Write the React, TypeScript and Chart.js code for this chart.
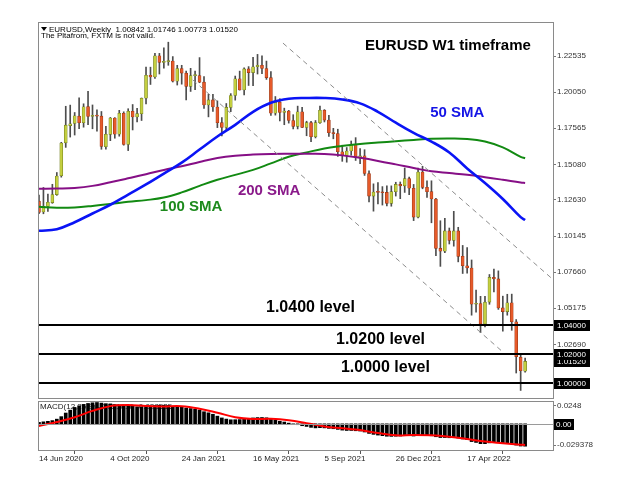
import React, { useEffect, useRef } from 'react';
import { Chart, registerables } from 'chart.js';

Chart.register(...registerables);

// ---------- DATA (weekly EURUSD, week 0 = 14 Jun 2020) ----------
const candleOpen = [
  1.1255, 1.1180, 1.1218, 1.1245, 1.1300, 1.1430, 1.1656, 1.1775, 1.1790, 1.1840,
  1.1795, 1.1905, 1.1838, 1.1845, 1.1840, 1.1630, 1.1715, 1.1827, 1.1716, 1.1860,
  1.1645, 1.1874, 1.1834, 1.1857, 1.1963, 1.2121, 1.2110, 1.2255, 1.2210, 1.2215,
  1.2219, 1.2080, 1.2168, 1.2136, 1.2045, 1.2119, 1.2119, 1.2074, 1.1917, 1.1952,
  1.1903, 1.1795, 1.1762, 1.1900, 1.1982, 1.2097, 1.2020, 1.2165, 1.2140, 1.2180,
  1.2190, 1.2168, 1.2105, 1.1860, 1.1935, 1.1865, 1.1875, 1.1810, 1.1770, 1.1870,
  1.1762, 1.1795, 1.1698, 1.1795, 1.1880, 1.1813, 1.1726, 1.1720, 1.1595, 1.1570,
  1.1600, 1.1645, 1.1560, 1.1567, 1.1445, 1.1290, 1.1318, 1.1315, 1.1315, 1.1240,
  1.1320, 1.1370, 1.1360, 1.1410, 1.1344, 1.1145, 1.1455, 1.1350, 1.1320, 1.1270,
  1.0930, 1.0910, 1.1050, 1.0985, 1.1050, 1.0875, 1.0810, 1.0795, 1.0545, 1.0550,
  1.0410, 1.0560, 1.0730, 1.0720, 1.0520, 1.0495, 1.0555, 1.0425, 1.0180, 1.00842,
];
const candleHigh = [
  1.1297, 1.1349, 1.1303, 1.1371, 1.1452, 1.1660, 1.1908, 1.1916, 1.1865, 1.1966,
  1.1925, 1.2011, 1.1917, 1.1883, 1.1872, 1.1770, 1.1831, 1.1830, 1.1880, 1.1870,
  1.1891, 1.1920, 1.1894, 1.1965, 1.2177, 1.2177, 1.2273, 1.2272, 1.2310, 1.2349,
  1.2250, 1.2190, 1.2190, 1.2150, 1.2169, 1.2150, 1.2243, 1.2113, 1.1990, 1.1990,
  1.1945, 1.1830, 1.1927, 1.1995, 1.2116, 1.2150, 1.2172, 1.2181, 1.2245, 1.2265,
  1.2255, 1.2219, 1.2146, 1.1975, 1.1960, 1.1895, 1.1880, 1.1850, 1.1909, 1.1900,
  1.1805, 1.1805, 1.1810, 1.1910, 1.1885, 1.1846, 1.1756, 1.1750, 1.1640, 1.1624,
  1.1669, 1.1692, 1.1616, 1.1609, 1.1464, 1.1374, 1.1383, 1.1355, 1.1360, 1.1360,
  1.1385, 1.1387, 1.1483, 1.1420, 1.1370, 1.1483, 1.1495, 1.1395, 1.1395, 1.1275,
  1.1120, 1.1137, 1.1070, 1.1185, 1.1075, 1.0950, 1.0936, 1.0850, 1.0642, 1.0600,
  1.0600, 1.0750, 1.0787, 1.0775, 1.0601, 1.0614, 1.0615, 1.0440, 1.0200, 1.01746,
];
const candleLow = [
  1.1168, 1.1168, 1.1185, 1.1240, 1.1295, 1.1420, 1.1625, 1.1696, 1.1710, 1.1753,
  1.1764, 1.1782, 1.1753, 1.1737, 1.1612, 1.1613, 1.1671, 1.1688, 1.1702, 1.1640,
  1.1603, 1.1745, 1.1800, 1.1810, 1.1925, 1.2058, 1.2100, 1.2130, 1.2170, 1.2190,
  1.2075, 1.2054, 1.2060, 1.1952, 1.2010, 1.2023, 1.2070, 1.1893, 1.1835, 1.1873,
  1.1761, 1.1704, 1.1740, 1.1871, 1.1950, 1.2019, 1.1986, 1.2051, 1.2050, 1.2130,
  1.2133, 1.2093, 1.1845, 1.1847, 1.1807, 1.1781, 1.1792, 1.1752, 1.1752, 1.1760,
  1.1705, 1.1664, 1.1690, 1.1790, 1.1800, 1.1700, 1.1684, 1.1563, 1.1529, 1.1523,
  1.1571, 1.1535, 1.1513, 1.1432, 1.1250, 1.1186, 1.1236, 1.1228, 1.1222, 1.1220,
  1.1290, 1.1272, 1.1315, 1.1300, 1.1121, 1.1140, 1.1340, 1.1280, 1.1106, 1.0880,
  1.0806, 1.0900, 1.0960, 1.0945, 1.0837, 1.0757, 1.0760, 1.0470, 1.0490, 1.0350,
  1.0390, 1.0545, 1.0630, 1.0510, 1.0360, 1.0470, 1.0366, 1.0072, 0.9952, 1.00773,
];
const candleClose = [
  1.1178, 1.1220, 1.1247, 1.1300, 1.1428, 1.1655, 1.1778, 1.1787, 1.1842, 1.1795,
  1.1904, 1.1838, 1.1845, 1.1840, 1.1632, 1.1715, 1.1827, 1.1716, 1.1860, 1.1645,
  1.1874, 1.1834, 1.1857, 1.1963, 1.2121, 1.2110, 1.2255, 1.2210, 1.2215, 1.2219,
  1.2080, 1.2168, 1.2136, 1.2045, 1.2119, 1.2122, 1.2074, 1.1917, 1.1952, 1.1903,
  1.1795, 1.1762, 1.1900, 1.1982, 1.2097, 1.2020, 1.2165, 1.2140, 1.2180, 1.2190,
  1.2168, 1.2105, 1.1860, 1.1935, 1.1865, 1.1875, 1.1810, 1.1770, 1.1870, 1.1762,
  1.1795, 1.1698, 1.1795, 1.1880, 1.1813, 1.1726, 1.1720, 1.1595, 1.1570, 1.1600,
  1.1645, 1.1560, 1.1567, 1.1445, 1.1290, 1.1318, 1.1315, 1.1313, 1.1240, 1.1320,
  1.1370, 1.1360, 1.1410, 1.1344, 1.1145, 1.1455, 1.1350, 1.1320, 1.1270, 1.0930,
  1.0910, 1.1050, 1.0985, 1.1050, 1.0875, 1.0810, 1.0795, 1.0545, 1.0550, 1.0410,
  1.0560, 1.0730, 1.0720, 1.0520, 1.0495, 1.0555, 1.0425, 1.0185, 1.0088, 1.01520,
];

const maWeeks = [0, 4, 8, 12, 16, 20, 24, 28, 32, 36, 40, 44, 48, 52, 56, 60, 64, 68, 72, 76, 80, 84, 88, 92, 96, 100, 104, 108, 109];
const sma50 = [1.1051, 1.1062, 1.1110, 1.1170, 1.1230, 1.1300, 1.1370, 1.1445, 1.1520, 1.1610, 1.1700, 1.1780, 1.1870, 1.1932, 1.1960, 1.1965, 1.1965, 1.1955, 1.1928, 1.1870, 1.1795, 1.1725, 1.1665, 1.1590, 1.1480, 1.1380, 1.1270, 1.1145, 1.1125];
const sma100 = [1.1216, 1.1210, 1.1212, 1.1222, 1.1235, 1.1250, 1.1262, 1.1280, 1.1315, 1.1360, 1.1402, 1.1436, 1.1470, 1.1515, 1.1560, 1.1590, 1.1618, 1.1635, 1.1649, 1.1658, 1.1667, 1.1676, 1.1684, 1.1686, 1.1683, 1.1665, 1.1625, 1.1560, 1.1550];
const sma200 = [1.1340, 1.1342, 1.1346, 1.1360, 1.1385, 1.1412, 1.1440, 1.1470, 1.1495, 1.1525, 1.1552, 1.1568, 1.1576, 1.1580, 1.1581, 1.1581, 1.1580, 1.1570, 1.1553, 1.1532, 1.1508, 1.1483, 1.1460, 1.1448, 1.1436, 1.1420, 1.1402, 1.1383, 1.1380];

// dashed channel (start/end week, start/end price)
const channelWeeks = [[54.7, 115.2], [34.5, 104.0]];
const channelPrices = [[1.2343, 1.0717], [1.2089, 1.0217]];

// MACD(12,26,9) main (histogram) per week and signal sampled every 4 weeks
const macdMain = [
  0.0020, 0.0028, 0.0035, 0.0045, 0.0065, 0.0100, 0.0150, 0.0190, 0.0228, 0.0250,
  0.0270, 0.0283, 0.0292, 0.0296, 0.0288, 0.0280, 0.0277, 0.0267, 0.0262, 0.0250,
  0.0250, 0.0243, 0.0237, 0.0237, 0.0245, 0.0248, 0.0255, 0.0258, 0.0258, 0.0255,
  0.0245, 0.0241, 0.0233, 0.0220, 0.0212, 0.0202, 0.0192, 0.0168, 0.0153, 0.0133,
  0.0107, 0.0082, 0.0066, 0.0056, 0.0057, 0.0059, 0.0070, 0.0076, 0.0082, 0.0087,
  0.0088, 0.0084, 0.0061, 0.0049, 0.0036, 0.0025, 0.0010, -0.0005, -0.0012, -0.0026,
  -0.0036, -0.0049, -0.0056, -0.0053, -0.0056, -0.0063, -0.0068, -0.0077, -0.0087, -0.0092,
  -0.0092, -0.0096, -0.0100, -0.0113, -0.0133, -0.0146, -0.0156, -0.0164, -0.0172, -0.0174,
  -0.0172, -0.0169, -0.0164, -0.0162, -0.0169, -0.0164, -0.0164, -0.0164, -0.0166, -0.0179,
  -0.0190, -0.0190, -0.0193, -0.0190, -0.0197, -0.0210, -0.0220, -0.0246, -0.0258, -0.0275,
  -0.0275, -0.0264, -0.0256, -0.0261, -0.0268, -0.0268, -0.0277, -0.0295, -0.0308, -0.0310,
];
const macdSignal = [-0.0030, 0.0025, 0.0092, 0.0180, 0.0246, 0.0261, 0.0246, 0.0242, 0.0244, 0.0210, 0.0154, 0.0092, 0.0067, 0.0070, 0.0051, 0.0010, -0.0036, -0.0062, -0.0087, -0.0128, -0.0159, -0.0154, -0.0159, -0.0179, -0.0210, -0.0246, -0.0268, -0.0289, -0.0293];

// axis ticks
const priceTicks = [1.22535, 1.2005, 1.17565, 1.1508, 1.1263, 1.10145, 1.0766, 1.05175, 1.0269, 1.00205];
const dateTickWeeks = [0, 16, 32, 48, 64, 80, 96];
const dateTickLabels = ['14 Jun 2020', '4 Oct 2020', '24 Jan 2021', '16 May 2021', '5 Sep 2021', '26 Dec 2021', '17 Apr 2022'];
const macdTickValues = [0.0248, -0.029378];
const macdTickLabels = ['0.0248', '-0.029378'];

// horizontal levels and price tags
const levelValues = [1.04, 1.02, 1.0];
const levelTags = ['1.04000', '1.02000', '1.00000'];
const lastPrice = 1.0152;
const lastPriceTag = '1.01520';

const headerLine1 = 'EURUSD,Weekly  1.00842 1.01746 1.00773 1.01520';
const headerLine2 = 'The Pltafrom, FXTM is not valid.';
const macdCaption = 'MACD(12,26,9) -0.031016 -0.028535';

// text annotations placed in chart (week, price) coordinates
const captions = [
  { text: 'EURUSD W1 timeframe', week: 73.1, price: 1.2323, color: '#000000', size: 15 },
  { text: '50 SMA', week: 87.7, price: 1.1862, color: '#1414e6', size: 15 },
  { text: '200 SMA', week: 44.6, price: 1.1325, color: '#8a1a8a', size: 15 },
  { text: '100 SMA', week: 27.1, price: 1.1215, color: '#1d8a1d', size: 15 },
  { text: '1.0400 level', week: 50.9, price: 1.0520, color: '#000000', size: 16 },
  { text: '1.0200 level', week: 66.6, price: 1.0300, color: '#000000', size: 16 },
  { text: '1.0000 level', week: 67.7, price: 1.0107, color: '#000000', size: 16 },
];

// ---------- STYLE ----------
const FONT = '"Liberation Sans", Arial, sans-serif';
const X_MIN = -0.22;
const X_MAX = 115.25;
const AXIS_W = 87;
const BULL = '#c4cf40';
const BEAR = '#e65a2a';
const BULL_EDGE = '#6f7c1c';
const BEAR_EDGE = '#9a3512';
const FRAME = '#8a8a8a';

export default function App() {
  const mainRef = useRef<HTMLCanvasElement>(null);
  const macdRef = useRef<HTMLCanvasElement>(null);

  useEffect(() => {
    const weeks = candleOpen.map((_, i) => i);
    const isBull = (i: number) => candleClose[i] >= candleOpen[i];

    const mainPlugin = {
      id: 'mainOverlay',
      afterDatasetsDraw(chart: any) {
        const { ctx, chartArea: a, scales } = chart;
        const x = scales.x;
        const y = scales.y;
        ctx.save();
        // level lines
        ctx.fillStyle = '#000';
        levelValues.forEach((v) => {
          const py = Math.round(y.getPixelForValue(v));
          ctx.fillRect(a.left, py - 1, a.right - a.left, 2);
        });
        // captions
        captions.forEach((c) => {
          ctx.font = `bold ${c.size}px ${FONT}`;
          ctx.fillStyle = c.color;
          ctx.textAlign = 'left';
          ctx.textBaseline = 'middle';
          ctx.fillText(c.text, x.getPixelForValue(c.week), y.getPixelForValue(c.price));
        });
        // header
        ctx.fillStyle = '#000';
        ctx.beginPath();
        ctx.moveTo(a.left + 3, a.top + 5);
        ctx.lineTo(a.left + 9, a.top + 5);
        ctx.lineTo(a.left + 6, a.top + 9);
        ctx.closePath();
        ctx.fill();
        ctx.font = `8px ${FONT}`;
        ctx.textAlign = 'left';
        ctx.textBaseline = 'alphabetic';
        ctx.fillText(headerLine1, a.left + 11, a.top + 10);
        ctx.fillText(headerLine2, a.left + 3, a.top + 16);
        ctx.restore();
      },
      afterDraw(chart: any) {
        const { ctx, chartArea: a, scales } = chart;
        const y = scales.y;
        ctx.save();
        ctx.strokeStyle = FRAME;
        ctx.lineWidth = 1;
        ctx.strokeRect(a.left + 0.5, a.top + 0.5, a.right - a.left, a.bottom - a.top);
        const tag = (v: number, label: string) => {
          const py = Math.round(y.getPixelForValue(v));
          ctx.fillStyle = '#000';
          ctx.fillRect(a.right + 1, py - 5, 36, 11);
          ctx.fillStyle = '#fff';
          ctx.font = `8px ${FONT}`;
          ctx.textAlign = 'left';
          ctx.textBaseline = 'middle';
          ctx.fillText(label, a.right + 4, py + 0.5);
        };
        tag(lastPrice, lastPriceTag);
        levelValues.forEach((v, k) => tag(v, levelTags[k]));
        ctx.restore();
      },
    };

    const main = new Chart(mainRef.current as HTMLCanvasElement, {
      type: 'bar',
      data: {
        datasets: [
          {
            type: 'bar',
            label: 'wick',
            data: weeks.map((i) => ({ x: i, y: [candleLow[i], candleHigh[i]] })) as any,
            backgroundColor: '#4d4d4d',
            barThickness: 1,
            grouped: false,
            order: 6,
          } as any,
          {
            type: 'bar',
            label: 'body',
            data: weeks.map((i) => ({ x: i, y: [candleOpen[i], candleClose[i]] })) as any,
            backgroundColor: weeks.map((i) => (isBull(i) ? BULL : BEAR)),
            borderColor: weeks.map((i) => (isBull(i) ? BULL_EDGE : BEAR_EDGE)),
            borderWidth: 0.6,
            borderSkipped: false,
            barThickness: 3,
            minBarLength: 1,
            grouped: false,
            order: 5,
          } as any,
          ...channelWeeks.map((cw, k) => ({
            type: 'line',
            label: 'channel' + k,
            data: cw.map((w, j) => ({ x: w, y: channelPrices[k][j] })),
            borderColor: '#8c8c8c',
            borderWidth: 1,
            borderDash: [5, 4],
            pointRadius: 0,
            order: 1,
          })) as any,
          {
            type: 'line',
            label: '200 SMA',
            data: maWeeks.map((w, k) => ({ x: w, y: sma200[k] })),
            borderColor: '#860f86',
            borderWidth: 2,
            pointRadius: 0,
            tension: 0.4,
            order: 3,
          } as any,
          {
            type: 'line',
            label: '100 SMA',
            data: maWeeks.map((w, k) => ({ x: w, y: sma100[k] })),
            borderColor: '#128a12',
            borderWidth: 2,
            pointRadius: 0,
            tension: 0.4,
            order: 3,
          } as any,
          {
            type: 'line',
            label: '50 SMA',
            data: maWeeks.map((w, k) => ({ x: w, y: sma50[k] })),
            borderColor: '#0a14f5',
            borderWidth: 2.6,
            pointRadius: 0,
            tension: 0.4,
            order: 2,
          } as any,
        ],
      },
      options: {
        animation: false,
        responsive: false,
        devicePixelRatio: 1,
        events: [],
        layout: { padding: { left: 38, top: 22, right: 0, bottom: 82 } },
        plugins: { legend: { display: false }, tooltip: { enabled: false } },
        scales: {
          x: { type: 'linear', min: X_MIN, max: X_MAX, offset: false, display: false },
          y: {
            type: 'linear',
            position: 'right',
            min: 0.99,
            max: 1.2488,
            afterBuildTicks: (s: any) => {
              s.ticks = priceTicks.map((v) => ({ value: v }));
            },
            afterFit: (s: any) => {
              s.width = AXIS_W;
            },
            ticks: {
              autoSkip: false,
              padding: 1,
              color: '#333',
              font: { family: FONT, size: 8 },
              callback: (v: any) => Number(v).toFixed(5),
            },
            grid: { drawOnChartArea: false, drawTicks: true, tickLength: 3, color: '#777' },
            border: { display: true, color: FRAME },
          },
        },
      } as any,
      plugins: [mainPlugin],
    });

    const macdPlugin = {
      id: 'macdOverlay',
      beforeDatasetsDraw(chart: any) {
        const { ctx, chartArea: a } = chart;
        ctx.save();
        ctx.fillStyle = '#222';
        ctx.font = `8px ${FONT}`;
        ctx.textAlign = 'left';
        ctx.textBaseline = 'middle';
        ctx.fillText(macdCaption, a.left + 2, a.top + 6);
        ctx.restore();
      },
      afterDraw(chart: any) {
        const { ctx, chartArea: a, scales } = chart;
        const y = scales.y;
        ctx.save();
        const zy = Math.round(y.getPixelForValue(0)) + 0.5;
        ctx.strokeStyle = '#9a9a9a';
        ctx.lineWidth = 1;
        ctx.beginPath();
        ctx.moveTo(a.left, zy);
        ctx.lineTo(a.right, zy);
        ctx.stroke();
        ctx.strokeStyle = FRAME;
        ctx.strokeRect(a.left + 0.5, a.top + 0.5, a.right - a.left, a.bottom - a.top);
        ctx.fillStyle = '#000';
        ctx.fillRect(a.right + 1, zy - 5.5, 20, 11);
        ctx.fillStyle = '#fff';
        ctx.font = `8px ${FONT}`;
        ctx.textAlign = 'left';
        ctx.textBaseline = 'middle';
        ctx.fillText('0.00', a.right + 3, zy);
        ctx.restore();
      },
    };

    const macd = new Chart(macdRef.current as HTMLCanvasElement, {
      type: 'bar',
      data: {
        datasets: [
          {
            type: 'line',
            label: 'signal',
            data: maWeeks.map((w, k) => ({ x: w, y: macdSignal[k] })),
            borderColor: '#ff0000',
            borderWidth: 2,
            pointRadius: 0,
            tension: 0.4,
            order: 1,
          } as any,
          {
            type: 'bar',
            label: 'MACD',
            data: weeks.map((i) => ({ x: i, y: macdMain[i] })),
            backgroundColor: '#000',
            barThickness: 3,
            grouped: false,
            order: 2,
          } as any,
        ],
      },
      options: {
        animation: false,
        responsive: false,
        devicePixelRatio: 1,
        events: [],
        layout: { padding: { left: 38, top: 401, right: 0, bottom: 0 } },
        plugins: { legend: { display: false }, tooltip: { enabled: false } },
        scales: {
          x: {
            type: 'linear',
            min: X_MIN,
            max: X_MAX,
            offset: false,
            position: 'bottom',
            afterBuildTicks: (s: any) => {
              s.ticks = dateTickWeeks.map((v) => ({ value: v }));
            },
            afterFit: (s: any) => {
              s.height = 30;
            },
            ticks: {
              autoSkip: false,
              maxRotation: 0,
              minRotation: 0,
              align: 'start',
              padding: 0,
              color: '#222',
              font: { family: FONT, size: 8 },
              callback: (_v: any, idx: number) => dateTickLabels[idx],
            },
            grid: { drawOnChartArea: false, drawTicks: true, tickLength: 4, color: '#555' },
            border: { display: true, color: FRAME },
          },
          y: {
            type: 'linear',
            position: 'right',
            min: -0.0363,
            max: 0.0317,
            afterBuildTicks: (s: any) => {
              s.ticks = macdTickValues.map((v) => ({ value: v }));
            },
            afterFit: (s: any) => {
              s.width = AXIS_W;
            },
            ticks: {
              autoSkip: false,
              padding: 1,
              color: '#333',
              font: { family: FONT, size: 8 },
              callback: (_v: any, idx: number) => macdTickLabels[idx],
            },
            grid: { drawOnChartArea: false, drawTicks: true, tickLength: 3, color: '#777' },
            border: { display: true, color: FRAME },
          },
        },
      } as any,
      plugins: [macdPlugin],
    });

    return () => {
      main.destroy();
      macd.destroy();
    };
  }, []);

  return (
    <div style={{ position: 'fixed', left: 0, top: 0, width: 640, height: 480, background: '#fff' }}>
      <canvas ref={mainRef} width={640} height={480} style={{ position: 'absolute', left: 0, top: 0 }} />
      <canvas ref={macdRef} width={640} height={480} style={{ position: 'absolute', left: 0, top: 0 }} />
    </div>
  );
}
